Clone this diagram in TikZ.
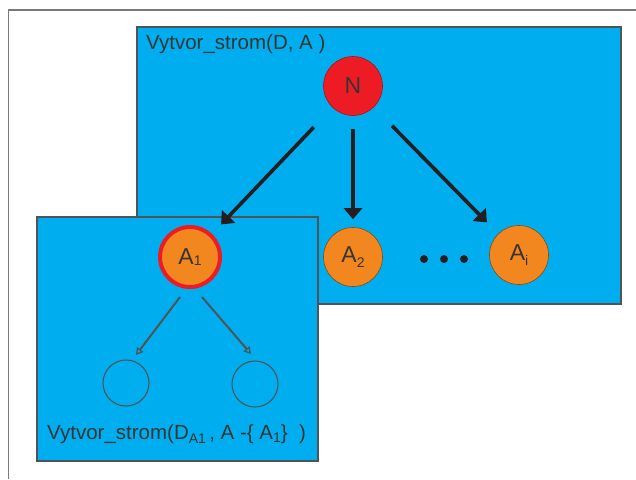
\documentclass[tikz,border=0pt]{standalone}
\usepackage{fontspec}
\setmainfont{Liberation Sans}
\usetikzlibrary{arrows.meta,calc}

\definecolor{boxblue}{HTML}{00AEEF}
\definecolor{boxedge}{HTML}{4F5458}
\definecolor{nodered}{HTML}{ED1C24}
\definecolor{nodeorange}{HTML}{F3871F}
\definecolor{inkdark}{HTML}{231F20}
\definecolor{textgray}{HTML}{353535}
\definecolor{framegray}{HTML}{7A7A7A}

% lowered small text used for indices
\newcommand{\lowsub}[2][4pt]{\raisebox{-#1}{\fontsize{14}{14}\selectfont #2}}

\begin{document}
\begin{tikzpicture}[x=1pt,y=-1pt,
  callbox/.style={draw=boxedge,line width=1.2pt,fill=boxblue},
  treenode/.style={circle,minimum size=59pt,inner sep=0pt,text=textgray,
                   font=\fontsize{23}{23}\selectfont},
  rootnode/.style={treenode,fill=nodered,draw=nodered!70!black,line width=0.6pt},
  attrnode/.style={treenode,fill=nodeorange,draw=nodeorange!55!black,line width=0.6pt},
  chosennode/.style={treenode,fill=nodeorange,draw=nodered,line width=4pt,minimum size=60pt},
  emptynode/.style={circle,minimum size=46pt,inner sep=0pt,draw=boxedge,line width=1.1pt},
  dotnode/.style={circle,fill=inkdark,minimum size=8pt,inner sep=0pt},
  callname/.style={anchor=base west,text=textgray,inner sep=0pt,
                   font=\fontsize{20.5}{20.5}\selectfont},
  bigarrow/.style={draw=inkdark,line width=3.6pt,
                   -{Triangle[length=11pt,width=18pt]}},
  smallarrow/.style={draw=boxedge,line width=2pt,
                   -{Triangle[open,length=7pt,width=8pt,line width=1.3pt]}}
]
\useasboundingbox (0,0) rectangle (636,479);

% outer page frame
\draw[framegray,line width=1.6pt] (8.5,479) -- (8.5,10) -- (640,10);

% recursive call for the whole attribute set
\filldraw[callbox] (137,27) rectangle (621,304);
\node[callname] (title) at (146,49) {Vytvor\_strom(D, A )};

\node[rootnode] (N) at (353,86) {N};
\node[attrnode] (A2) at (353,257) {A\lowsub[5pt]{2}};
\node[attrnode] (Ai) at (519,255) {A\lowsub[5pt]{i}};
\node[dotnode] (d1) at (424,259) {};
\node[dotnode] (d2) at (444,259) {};
\node[dotnode] (d3) at (464,259) {};

% recursive call for the chosen attribute A1
\filldraw[callbox] (37,217) rectangle (318,461);
\node[chosennode] (A1) at (190,257) {A\lowsub[1pt]{1}};
\node[emptynode] (C1) at (126,383) {};
\node[emptynode] (C2) at (255,384) {};
\node[callname] (sub) at (47,439)
  {Vytvor\_strom(D\lowsub[4pt]{A1}\,, A -\{ A\lowsub[3pt]{1}\}\ \ )};

% branches from the root
\draw[bigarrow,shorten <=27pt,shorten >=13pt] (N) -- (A1);
\draw[bigarrow,shorten <=13pt,shorten >=8pt] (N) -- (A2);
\draw[bigarrow,shorten <=26pt,shorten >=16pt] (N) -- (Ai);

% branches of the subtree
\draw[smallarrow] ($(A1)+(-10,40)$) -- ($(C1)+(10,-28)$);
\draw[smallarrow] ($(A1)+(12,40)$) -- ($(C2)+(-4,-30)$);
\end{tikzpicture}
\end{document}
